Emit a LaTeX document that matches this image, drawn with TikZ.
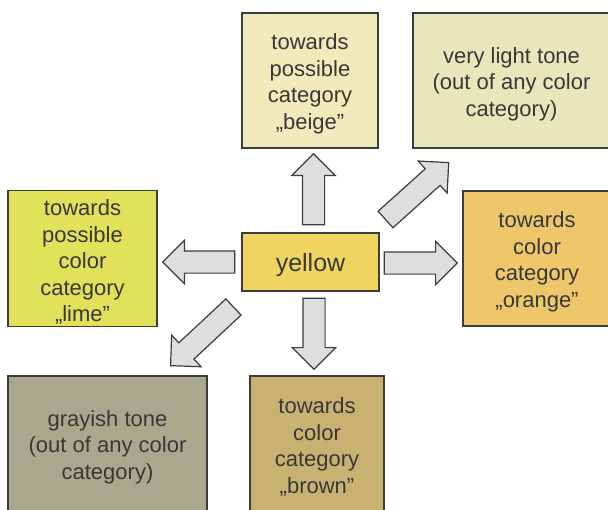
\documentclass[tikz,border=0pt]{standalone}
\usepackage{fontspec}
\setmainfont{Liberation Sans}
\usetikzlibrary{shapes.arrows,calc,positioning}
\definecolor{edge}{HTML}{3C3C3C}
\definecolor{ink}{HTML}{383838}
\definecolor{arrfill}{HTML}{DEDEDE}
\definecolor{cbeige}{HTML}{F3EABB}
\definecolor{clight}{HTML}{E8E7BC}
\definecolor{cyellow}{HTML}{EFD55F}
\definecolor{clime}{HTML}{E1E15A}
\definecolor{corange}{HTML}{EEC76A}
\definecolor{cgray}{HTML}{A9A78C}
\definecolor{cbrown}{HTML}{C9B171}
\newcommand\topstrut{\rule{0pt}{23pt}}
\begin{document}
\begin{tikzpicture}[x=1pt,y=-1pt,
  box/.style={draw=edge,line width=1.2pt,align=center,inner sep=2pt,text=ink,font=\fontsize{22}{26.5}\selectfont,minimum height=135pt},
  arr/.style={single arrow,draw=edge,fill=arrfill,line width=1.2pt,inner xsep=0pt,inner ysep=10.5pt,minimum width=42pt,single arrow head extend=10.5pt,single arrow head indent=0pt,anchor=tail}]
  \useasboundingbox (0,0) rectangle (608,509);
  \node[box,fill=cbeige,minimum width=136pt]  (beige)  at (310,80.5)    {\topstrut towards\\possible\\category\\„beige”};
  \node[box,fill=clight,minimum width=197pt]  (light)  at (511.5,80.5)  {\topstrut very light tone\\(out of any color\\category)};
  \node[box,fill=cyellow,minimum width=137pt,minimum height=58pt,font=\fontsize{25}{30}\selectfont] (yellow) at (310.5,262) {\rule{0pt}{24pt}yellow};
  \node[box,fill=clime,minimum width=149pt]   (lime)   at (82.5,258.5)  {\topstrut towards\\possible\\color\\category\\„lime”};
  \node[box,fill=corange,minimum width=148pt] (orange) at (537,258.5)   {\topstrut towards\\color\\category\\„orange”};
  \node[box,fill=cgray,minimum width=199pt]   (gray)   at (107.5,443.5) {\topstrut grayish tone\\(out of any color\\category)};
  \node[box,fill=cbrown,minimum width=134pt]  (brown)  at (317,443.5)   {\topstrut towards\\color\\category\\„brown”};
  % block arrows, placed by their tails
  \node[arr,minimum height=71pt,rotate=90]  (toBeige)  at ([xshift=3pt,yshift=7pt]yellow.north) {};
  \node[arr,minimum height=72pt,rotate=180] (toLime)   at ([xshift=-6pt]yellow.west) {};
  \node[arr,minimum height=73pt]            (toOrange) at ([xshift=4pt,yshift=-1pt]yellow.east) {};
  \node[arr,minimum height=71pt,rotate=-90] (toBrown)  at ([xshift=3.5pt,yshift=-6pt]yellow.south) {};
  \node[arr,minimum height=85pt,rotate=42]  (toLight)  at ([xshift=5.5pt,yshift=12.5pt]yellow.north east) {};
  \node[arr,minimum height=86pt,rotate=223] (toGray)   at ([xshift=-7.5pt,yshift=-15pt]yellow.south west) {};
\end{tikzpicture}
\end{document}
